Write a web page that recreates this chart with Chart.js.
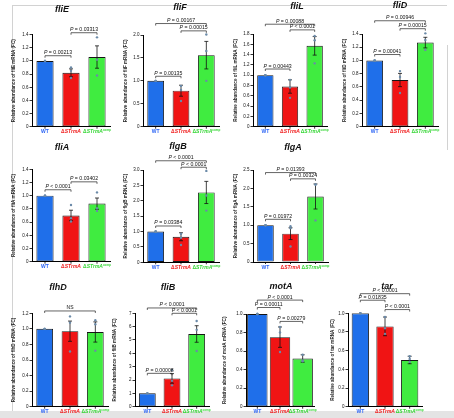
<!DOCTYPE html>
<html>
<head>
<meta charset="utf-8">
<script src="https://cdn.jsdelivr.net/npm/chart.js@4.4.1/dist/chart.umd.min.js"></script>
<style>
html, body { margin: 0; padding: 0; background: #fff; }
#wrap { position: relative; width: 454px; height: 418px; overflow: hidden; }
#wrap canvas { position: absolute; left: 0; top: 0; }
.frame { position: absolute; background: #d2d2d2; }
</style>
</head>
<body>
<div id="wrap">
  <div class="frame" style="left:12px;top:5px;width:1px;height:406px"></div>
  <div class="frame" style="left:12px;top:5px;width:435px;height:1px"></div>
  <div class="frame" style="left:447px;top:45px;width:1px;height:105px"></div>
  <div class="frame" style="left:0;top:411px;width:454px;height:7px;background:#e4e4e4"></div>
</div>
<script>
const genes = ['fliE', 'fliF', 'fliL', 'fliD', 'fliA', 'flgB', 'flgA', 'flhD', 'fliB', 'motA', 'tar'];
const strains = ['WT', 'ΔSTrmA', 'ΔSTrmAcomp'];

// bar height = mean fold change, [WT, ΔSTrmA, ΔSTrmA comp]
const meanFC = [
    [1, 0.82, 1.06], [1, 0.785, 1.56], [1, 0.78, 1.57], [1, 0.705, 1.27],
    [1, 0.70, 0.88], [1, 0.83, 2.27], [1, 0.77, 1.78],
    [1, 0.97, 0.96], [1, 2.12, 5.45], [1, 0.75, 0.52], [1, 0.86, 0.50]
];
const semFC = [
    [0, 0.06, 0.17], [0, 0.12, 0.30], [0, 0.13, 0.18], [0, 0.10, 0.08],
    [0, 0.08, 0.085], [0, 0.13, 0.36], [0, 0.16, 0.34],
    [0, 0.13, 0.13], [0, 0.36, 0.62], [0, 0.11, 0.04], [0, 0.10, 0.04]
];
// single replicates (dots)
const replicateFC = [
    [[1, 1, 1], [0.90, 0.85, 0.74], [1.36, 1.02, 0.78]],
    [[1, 1, 1], [0.89, 0.80, 0.56], [2.01, 1.65, 1.00]],
    [[1, 1, 1], [0.91, 0.76, 0.56], [1.76, 1.68, 1.23]],
    [[1, 1, 1], [0.84, 0.75, 0.51], [1.41, 1.31, 1.16]],
    [[1, 1, 1], [0.86, 0.66, 0.61], [1.05, 0.81, 0.77]],
    [[1, 1, 1], [0.92, 0.80, 0.56], [2.97, 2.17, 1.68]],
    [[1, 1, 1], [0.97, 0.92, 0.42], [2.11, 2.10, 1.13]],
    [[1, 1, 1], [1.16, 1.08, 0.71], [1.11, 1.06, 0.72]],
    [[1, 1, 1], [2.75, 1.95, 1.60], [6.42, 5.76, 4.17]],
    [[1, 1, 1], [0.86, 0.80, 0.59], [0.56, 0.50, 0.49]],
    [[1, 1, 1], [0.96, 0.84, 0.78], [0.54, 0.51, 0.48]]
];
const yMax = [1.4, 2.0, 1.8, 1.4, 1.4, 3.0, 2.5, 1.2, 7, 1.0, 1.0];
const yStep = [0.2, 0.5, 0.2, 0.2, 0.2, 0.5, 0.5, 0.2, 1, 0.2, 0.2];
// [from, to, bracket level (FC), label]
const pTests = [
    [[0, 1, 1.08, 'P = 0.00213'], [1, 2, 1.43, 'P = 0.03313']],
    [[0, 1, 1.10, 'P = 0.00135'], [1, 2, 2.09, 'P = 0.00015'], [0, 2, 2.25, 'P = 0.00167']],
    [[0, 1, 1.12, 'P = 0.00443'], [1, 2, 1.88, 'P < 0.0001'], [0, 2, 1.99, 'P = 0.00088']],
    [[0, 1, 1.09, 'P = 0.00041'], [1, 2, 1.48, 'P = 0.00015'], [0, 2, 1.60, 'P = 0.00946']],
    [[0, 1, 1.09, 'P < 0.0001'], [1, 2, 1.21, 'P = 0.03402']],
    [[0, 1, 1.18, 'P = 0.03384'], [1, 2, 3.09, 'P < 0.0001'], [0, 2, 3.30, 'P < 0.0001']],
    [[0, 1, 1.16, 'P = 0.01972'], [1, 2, 2.26, 'P = 0.00324'], [0, 2, 2.43, 'P = 0.01393']],
    [[0, 2, 1.23, 'NS']],
    [[0, 1, 2.50, 'P = 0.00008'], [1, 2, 7.0, 'P < 0.0001'], [0, 2, 7.4, 'P < 0.0001']],
    [[0, 1, 1.07, 'P = 0.00011'], [1, 2, 0.92, 'P = 0.00279'], [0, 2, 1.15, 'P < 0.0001']],
    [[0, 1, 1.14, 'P = 0.01835'], [1, 2, 1.04, 'P < 0.0001'], [0, 2, 1.21, 'P < 0.0001']]
];

// where each panel sits on the page
const panels = [
    { axisX: 32, right: 110, top: 34.7, zero: 126.7, titleX: 62, titleY: 10, yTitleX: 14, barPct: 0.66 },
    { axisX: 143, right: 219, top: 35, zero: 126.7, titleX: 180, titleY: 8, yTitleX: 126, barPct: 0.66 },
    { axisX: 253, right: 327, top: 34, zero: 126.7, titleX: 297, titleY: 7, yTitleX: 236, barPct: 0.66 },
    { axisX: 362, right: 438, top: 34, zero: 126.7, titleX: 400, titleY: 6, yTitleX: 345, barPct: 0.66 },
    { axisX: 32, right: 110, top: 169.3, zero: 261.7, titleX: 62, titleY: 148, yTitleX: 14, barPct: 0.66 },
    { axisX: 143, right: 219, top: 170, zero: 262.3, titleX: 178, titleY: 147, yTitleX: 126, barPct: 0.66 },
    { axisX: 253, right: 328, top: 170, zero: 262, titleX: 293, titleY: 148, yTitleX: 236, barPct: 0.66 },
    { axisX: 32, right: 108, top: 313.3, zero: 406.7, titleX: 58, titleY: 288, yTitleX: 14, barPct: 0.66 },
    { axisX: 135, right: 209, top: 313.3, zero: 406.7, titleX: 168, titleY: 288, yTitleX: 115, barPct: 0.68 },
    { axisX: 246, right: 314, top: 314, zero: 406.7, titleX: 281, titleY: 287, yTitleX: 225, barPct: 0.9 },
    { axisX: 348, right: 422, top: 313.3, zero: 406.7, titleX: 387, titleY: 287, yTitleX: 333, barPct: 0.7 }
];

const barColors = ['#1f6fea', '#f01414', '#40ec40'];
const labelColors = ['#2a63f5', '#f01818', '#33d633'];
const FONT = 'Arial, "Liberation Sans", sans-serif';
const W = 454, H = 418;
const Y_TITLE_SIZE = 4.6;

function drawRuns(ctx, runs, cx, y) {
    let total = 0;
    runs.forEach(r => { ctx.font = r.font; total += ctx.measureText(r.text).width; });
    let x = cx - total / 2;
    runs.forEach(r => {
        ctx.font = r.font;
        ctx.fillStyle = r.color;
        ctx.fillText(r.text, x, y - (r.dy || 0));
        x += ctx.measureText(r.text).width;
    });
}

const extras = {
    id: 'extras',
    afterDatasetsDraw(chart, args, opts) {
        const k = opts.idx;
        const p = panels[k];
        const ctx = chart.ctx;
        const xs = chart.scales.x, ys = chart.scales.y;
        ctx.save();
        ctx.textBaseline = 'alphabetic';

        // error bars and replicate dots
        meanFC[k].forEach((m, i) => {
            const x = xs.getPixelForValue(i);
            const s = semFC[k][i];
            if (s > 0) {
                const yt = ys.getPixelForValue(m + s), yb = ys.getPixelForValue(m - s);
                ctx.strokeStyle = '#111';
                ctx.lineWidth = 0.8;
                ctx.beginPath();
                ctx.moveTo(x, yt); ctx.lineTo(x, yb);
                ctx.moveTo(x - 2, yt); ctx.lineTo(x + 2, yt);
                ctx.moveTo(x - 2, yb); ctx.lineTo(x + 2, yb);
                ctx.stroke();
            }
            ctx.fillStyle = '#6b8aa8';
            replicateFC[k][i].forEach(v => {
                ctx.beginPath();
                ctx.arc(x, ys.getPixelForValue(v), 1.2, 0, Math.PI * 2);
                ctx.fill();
            });
            // x tick mark
            ctx.strokeStyle = '#000';
            ctx.lineWidth = 0.8;
            ctx.beginPath();
            ctx.moveTo(x, p.zero); ctx.lineTo(x, p.zero + 2);
            ctx.stroke();
        });

        // strain labels
        const ly = p.zero + 6.5;
        const bold = 'bold 5px ' + FONT, boldIt = 'italic bold 5px ' + FONT;
        drawRuns(ctx, [{ text: strains[0], font: bold, color: labelColors[0] }], xs.getPixelForValue(0), ly);
        drawRuns(ctx, [{ text: 'Δ', font: bold, color: labelColors[1] },
                       { text: 'STrmA', font: boldIt, color: labelColors[1] }], xs.getPixelForValue(1), ly);
        drawRuns(ctx, [{ text: 'Δ', font: bold, color: labelColors[2] },
                       { text: 'STrmA', font: boldIt, color: labelColors[2] },
                       { text: 'comp', font: 'bold 3px ' + FONT, color: labelColors[2], dy: 2 }], xs.getPixelForValue(2), ly);

        // significance brackets
        ctx.strokeStyle = '#222';
        ctx.lineWidth = 0.7;
        pTests[k].forEach(([a, b, lvl, txt]) => {
            const x1 = xs.getPixelForValue(a), x2 = xs.getPixelForValue(b);
            const y = ys.getPixelForValue(lvl);
            ctx.beginPath();
            ctx.moveTo(x1, y + 2); ctx.lineTo(x1, y); ctx.lineTo(x2, y); ctx.lineTo(x2, y + 2);
            ctx.stroke();
            const cx = (x1 + x2) / 2;
            if (txt === 'NS') {
                drawRuns(ctx, [{ text: 'NS', font: '5px ' + FONT, color: '#111' }], cx, y - 1.5);
            } else {
                drawRuns(ctx, [{ text: 'P', font: 'italic 5.2px ' + FONT, color: '#111' },
                               { text: txt.slice(1), font: '5.2px ' + FONT, color: '#111' }], cx, y - 1.5);
            }
        });

        // gene title
        ctx.textBaseline = 'middle';
        drawRuns(ctx, [{ text: genes[k], font: 'italic bold 9px ' + FONT, color: '#111' }], p.titleX, p.titleY);
        ctx.restore();
    }
};

const wrap = document.getElementById('wrap');
genes.forEach((gene, k) => {
    const p = panels[k];
    const canvas = document.createElement('canvas');
    canvas.width = W;
    canvas.height = H;
    wrap.appendChild(canvas);

    const titleOffset = Y_TITLE_SIZE * 1.2 / 2;
    const yWidth = p.axisX - p.yTitleX + titleOffset;
    const dec = yStep[k] < 1 ? 1 : 0;

    new Chart(canvas, {
        type: 'bar',
        data: {
            labels: strains,
            datasets: [{
                data: meanFC[k],
                backgroundColor: barColors,
                borderColor: '#151515',
                borderWidth: 0.9,
                borderSkipped: false,
                barPercentage: p.barPct,
                categoryPercentage: 1
            }]
        },
        options: {
            responsive: false,
            animation: false,
            events: [],
            layout: {
                padding: {
                    left: p.axisX - yWidth,
                    right: W - p.right,
                    top: p.top,
                    bottom: H - p.zero - 1
                }
            },
            plugins: {
                legend: { display: false },
                tooltip: { enabled: false },
                extras: { idx: k }
            },
            scales: {
                x: {
                    type: 'category',
                    offset: true,
                    grid: { display: false },
                    ticks: { display: false },
                    border: { color: '#000', width: 1 },
                    afterFit: s => { s.height = 1; }
                },
                y: {
                    min: 0,
                    max: yMax[k],
                    ticks: {
                        stepSize: yStep[k],
                        autoSkip: false,
                        color: '#111',
                        padding: 1,
                        font: { size: 4.5, family: FONT },
                        callback: v => v === 0 ? '0' : Number(v).toFixed(dec)
                    },
                    grid: { drawOnChartArea: false, drawTicks: true, tickLength: 2.5, color: '#000', lineWidth: 0.8 },
                    border: { color: '#000', width: 1 },
                    title: {
                        display: true,
                        text: 'Relative abundance of ' + gene + ' mRNA (FC)',
                        color: '#222',
                        font: { size: Y_TITLE_SIZE, weight: 'bold', family: FONT },
                        padding: 0
                    },
                    afterFit: s => { s.width = yWidth; }
                }
            }
        },
        plugins: [extras]
    });
});
</script>
</body>
</html>
